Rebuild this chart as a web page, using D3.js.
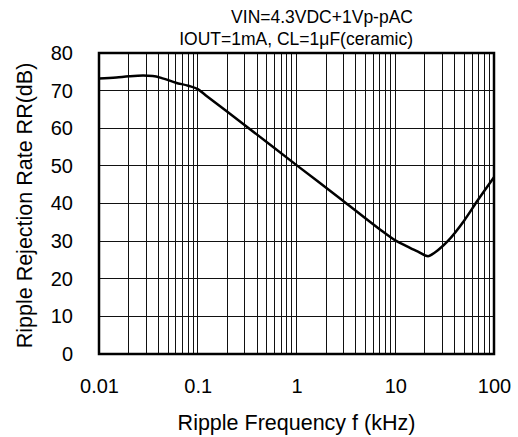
<!DOCTYPE html>
<html><head><meta charset="utf-8">
<script src="https://cdn.jsdelivr.net/npm/d3@7"></script>
<style>body{margin:0;background:#fff;} svg{display:block;font-family:"Liberation Sans",Arial,sans-serif;}</style>
</head><body><svg id="c" width="518" height="437"></svg>
<script>
const freq = [0.01,0.015,0.02,0.028,0.035,0.045,0.06,0.08,0.1,0.12,0.3,1,3,7,10,13,17,21.5,24,28.5,34,50,69,100];
const rr   = [73.2,73.5,73.8,74.0,73.9,73.2,72.1,71.3,70.4,68.8,60.8,50.2,40.6,33.1,30.2,28.7,27.2,26.0,26.6,28.1,30.0,35.5,41.0,47.0];
const xTicks = [0.01,0.1,1,10,100];
const xTickLabels = ["0.01","0.1","1","10","100"];
const yTicks = [0,10,20,30,40,50,60,70,80];
const titleLines = ["VIN=4.3VDC+1Vp-pAC","IOUT=1mA, CL=1\u03BCF(ceramic)"];
const xTitle = "Ripple Frequency f (kHz)";
const yTitle = "Ripple Rejection Rate RR(dB)";

const L=99,R=494,T=53,B=354;
const svg=d3.select("#c");
const x=d3.scaleLog().domain([0.01,100]).range([L,R]);
const y=d3.scaleLinear().domain([0,80]).range([B,T]);

const vgrid=[];
for(let d=-2; d<2; d++){ for(let m=1;m<10;m++){ vgrid.push(m*Math.pow(10,d)); } }
svg.append("g").selectAll("line").data(vgrid).join("line")
  .attr("x1",d=>x(d)).attr("x2",d=>x(d)).attr("y1",T).attr("y2",B)
  .attr("stroke","#111").attr("stroke-width",1).attr("shape-rendering","crispEdges");
svg.append("g").selectAll("line").data(yTicks).join("line")
  .attr("x1",L).attr("x2",R).attr("y1",d=>y(d)).attr("y2",d=>y(d))
  .attr("stroke","#111").attr("stroke-width",1).attr("shape-rendering","crispEdges");

const xa=svg.append("g").attr("transform",`translate(0,${B})`)
  .call(d3.axisBottom(x).tickValues(xTicks).tickFormat((d,i)=>xTickLabels[i]).tickSize(0).tickPadding(25));
xa.select(".domain").remove();
xa.selectAll("text").attr("font-size",20).attr("fill","#000").attr("font-family","Liberation Sans, Arial, sans-serif");
const ya=svg.append("g").attr("transform",`translate(${L},0)`)
  .call(d3.axisLeft(y).tickValues(yTicks).tickSize(0).tickPadding(26));
ya.select(".domain").remove();
ya.selectAll("text").attr("font-size",20).attr("fill","#000").attr("font-family","Liberation Sans, Arial, sans-serif");

svg.append("rect").attr("x",L).attr("y",T).attr("width",R-L).attr("height",B-T)
  .attr("fill","none").attr("stroke","#000").attr("stroke-width",2.5);

const line=d3.line().x((d,i)=>x(freq[i])).y((d,i)=>y(rr[i])).curve(d3.curveMonotoneX);
svg.append("path").datum(rr).attr("d",line).attr("fill","none").attr("stroke","#000").attr("stroke-width",2.5);

svg.append("text").attr("x",413).attr("y",23).attr("text-anchor","end").attr("font-size",17.5).text(titleLines[0]);
svg.append("text").attr("x",413).attr("y",45).attr("text-anchor","end").attr("font-size",17.5).text(titleLines[1]);
svg.append("text").attr("x",(L+R)/2).attr("y",430).attr("text-anchor","middle").attr("font-size",21.5).text(xTitle);
svg.append("text").attr("transform",`translate(32,${(T+B)/2+2}) rotate(-90)`).attr("text-anchor","middle").attr("font-size",21.5).text(yTitle);
</script></body></html>
